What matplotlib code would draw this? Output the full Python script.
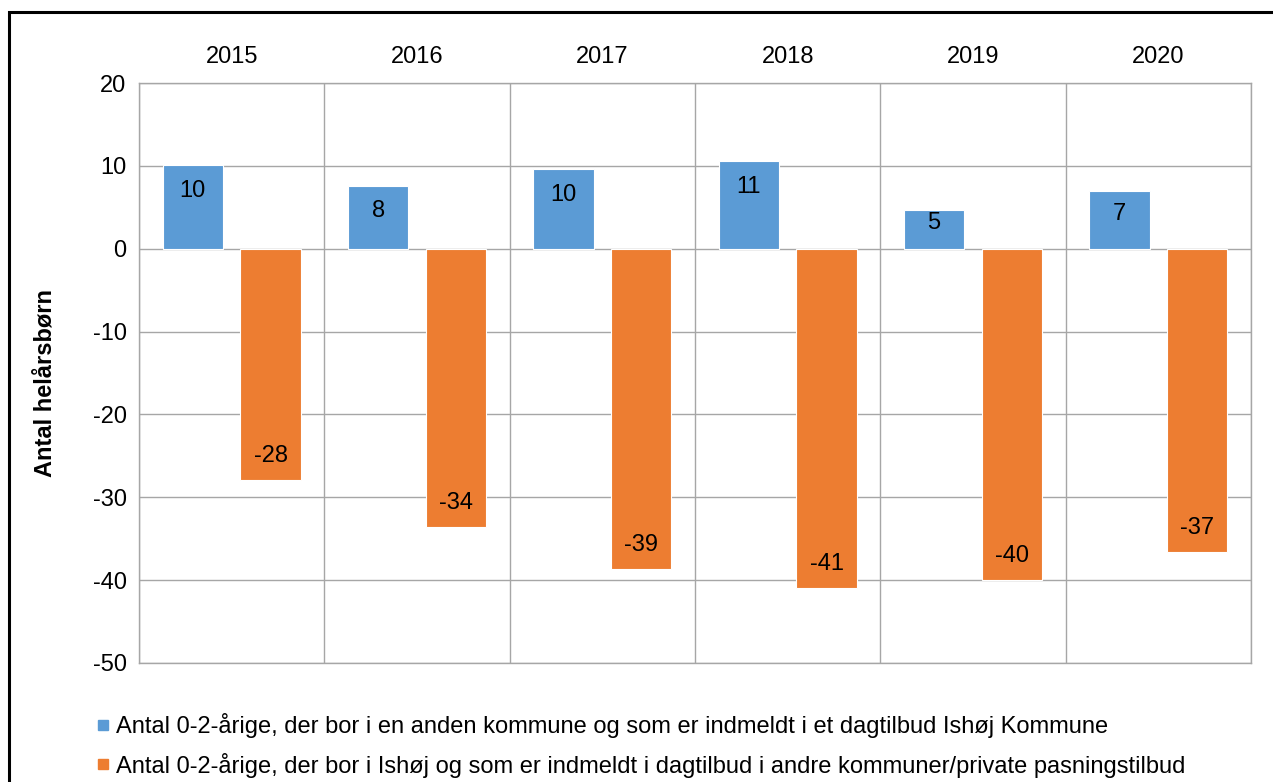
import matplotlib
matplotlib.use("Agg")
from matplotlib import pyplot as plt
from matplotlib.lines import Line2D
from matplotlib.patches import Rectangle
import numpy as np

plt.rcParams['font.family'] = ['Liberation Sans', 'DejaVu Sans']
plt.rcParams['axes.unicode_minus'] = False

years = ["2015", "2016", "2017", "2018", "2019", "2020"]
indmeldt_ishoj = [10.1, 7.6, 9.6, 10.6, 4.7, 7.0]
indmeldt_andre = [-27.9, -33.6, -38.6, -41.0, -40.0, -36.6]
series_names = [
    "Antal 0-2-årige, der bor i en anden kommune og som er indmeldt i et dagtilbud Ishøj Kommune",
    "Antal 0-2-årige, der bor i Ishøj og som er indmeldt i dagtilbud i andre kommuner/private pasningstilbud",
]
blue = '#5B9BD5'
orange = '#ED7D31'
grid_col = '#A6A6A6'
fs = 17

fig = plt.figure(figsize=(12.73, 7.82), dpi=100)
ax = fig.add_axes([139 / 1273, 1 - 663 / 782, (1251 - 139) / 1273, (663 - 83) / 782])

x = np.arange(len(years))
w = 0.325
b1 = ax.bar(x - 0.21, indmeldt_ishoj, w, color=blue, edgecolor='white', linewidth=0.8, zorder=3)
b2 = ax.bar(x + 0.21, indmeldt_andre, w, color=orange, edgecolor='white', linewidth=0.8, zorder=3)

ax.set_xlim(-0.5, len(years) - 0.5)
ax.set_ylim(-50, 20)
ax.set_yticks(range(-50, 21, 10))

# px per data unit, for placing labels inside the bar ends
ppu = (663 - 83) / 70.0
for rect, v in zip(b1, indmeldt_ishoj):
    h = v * ppu
    off = min(26, h / 2 - 6)
    ax.annotate(f"{v:.0f}", (rect.get_x() + rect.get_width() / 2, v),
                xytext=(0, -off), textcoords='offset pixels',
                ha='center', va='center', fontsize=fs, zorder=4)
for rect, v in zip(b2, indmeldt_andre):
    h = -v * ppu
    off = min(24, h / 2 - 6)
    ax.annotate(f"{v:.0f}", (rect.get_x() + rect.get_width() / 2, v),
                xytext=(0, off), textcoords='offset pixels',
                ha='center', va='center', fontsize=fs, zorder=4)

# categories on top, vertical grid between categories
ax.xaxis.tick_top()
ax.set_xticks(x)
ax.set_xticklabels(years, fontsize=fs)
ax.tick_params(axis='x', length=0, pad=11)
ax.tick_params(axis='y', length=0, pad=9, labelsize=fs)
ax.set_xticks(np.arange(-0.5, len(years)), minor=True)
ax.tick_params(axis='x', which='minor', length=0)
ax.grid(True, which='minor', axis='x', color=grid_col, linewidth=1, zorder=0)
ax.grid(True, which='major', axis='y', color=grid_col, linewidth=1, zorder=0)
ax.grid(False, which='major', axis='x')
for s in ax.spines.values():
    s.set_color(grid_col)
    s.set_linewidth(1)

fig.text(45 / 1273, 1 - 383 / 782, "Antal helårsbørn", rotation=90, fontsize=fs,
         fontweight='bold', ha='center', va='center')

handles = [Line2D([], [], marker='s', linestyle='', color=blue, markersize=7),
           Line2D([], [], marker='s', linestyle='', color=orange, markersize=7)]
fig.legend(handles, series_names, loc='upper left', bbox_to_anchor=(86 / 1273, 1 - 704 / 782),
           frameon=False, fontsize=fs, handlelength=0.6, handletextpad=0.25,
           labelspacing=0.6, borderaxespad=0)

fig.patches.append(Rectangle((9 / 1273, -0.05), 1.1, 1 - 12 / 782 + 0.05, transform=fig.transFigure,
                             fill=False, edgecolor='black', linewidth=2.2))

fig.savefig("out.png", dpi=100)
